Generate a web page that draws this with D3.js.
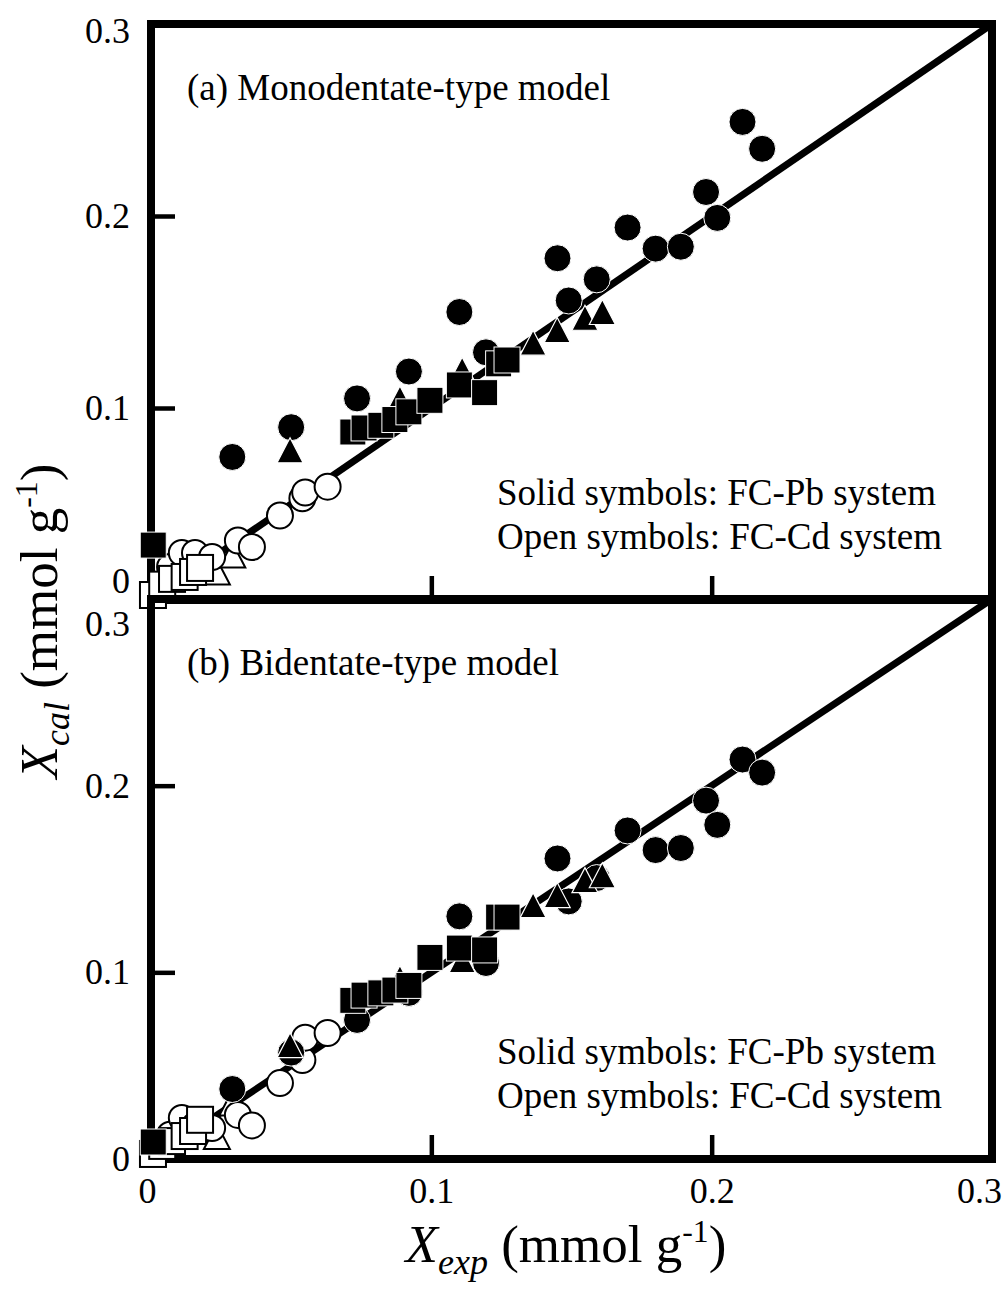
<!DOCTYPE html>
<html>
<head>
<meta charset="utf-8">
<script src="https://cdn.jsdelivr.net/npm/d3@7"></script>
<style>
  html, body { margin: 0; padding: 0; background: #fff; }
  svg { display: block; }
  text { font-family: "Liberation Serif", "Times New Roman", serif; fill: #000; }
</style>
</head>
<body>
<svg id="chart" width="1007" height="1295"></svg>
<script>
// ---- Experimental amounts (shared by both panels) and calculated amounts ----
// FC-Pb system (solid symbols)
const pbCircleX  = [0.029, 0.050, 0.0735, 0.092, 0.110, 0.1195, 0.145, 0.149, 0.159, 0.170, 0.180, 0.189, 0.198, 0.202, 0.211, 0.218];
const pbCircleYa = [0.0745, 0.090, 0.105, 0.119, 0.150, 0.129, 0.178, 0.156, 0.167, 0.194, 0.183, 0.184, 0.2125, 0.199, 0.249, 0.235];
const pbCircleYb = [0.0375, 0.057, 0.0745, 0.089, 0.130, 0.105, 0.161, 0.138, 0.1505, 0.176, 0.1655, 0.1666, 0.192, 0.179, 0.214, 0.207];

const pbSquareX  = [0.0008, 0.072, 0.076, 0.082, 0.087, 0.092, 0.0995, 0.110, 0.119, 0.124, 0.127];
const pbSquareYa = [0.0286, 0.0875, 0.0896, 0.091, 0.094, 0.098, 0.104, 0.112, 0.108, 0.123, 0.125];
const pbSquareYb = [0.0091, 0.085, 0.0878, 0.089, 0.0905, 0.093, 0.108, 0.113, 0.112, 0.1296, 0.1296];

const pbTriX  = [0.0496, 0.0888, 0.111, 0.1363, 0.1449, 0.1548, 0.161];
const pbTriYa = [0.078, 0.105, 0.120, 0.134, 0.1406, 0.147, 0.150];
const pbTriYb = [0.061, 0.097, 0.1066, 0.136, 0.1414, 0.1494, 0.152];

// FC-Cd system (open symbols)
const cdCircleX  = [0.0068, 0.011, 0.0157, 0.0218, 0.031, 0.036, 0.046, 0.054, 0.055, 0.063];
const cdCircleYa = [0.0172, 0.0245, 0.0245, 0.0224, 0.031, 0.0276, 0.044, 0.053, 0.056, 0.059];
const cdCircleYb = [0.013, 0.022, 0.018, 0.0166, 0.0236, 0.018, 0.0407, 0.053, 0.065, 0.0675];

const cdSquareX  = [0.0007, 0.004, 0.0075, 0.012, 0.015, 0.0175];
const cdSquareYa = [0.0026, 0.008, 0.011, 0.012, 0.0146, 0.0167];
const cdSquareYb = [0.0027, 0.007, 0.0096, 0.0123, 0.015, 0.021];

const cdTriX  = [0.0235, 0.029];
const cdTriYa = [0.0146, 0.0234];
const cdTriYb = [0.012, 0.030];

// Axis ticks and labels
const tickValues = [0, 0.1, 0.2, 0.3];
const tickLabels = ["0", "0.1", "0.2", "0.3"];
const parityLine = [[0, 0], [0.3, 0.3]];

const panels = [
  { title: "(a) Monodentate-type model", circleY: pbCircleYa, squareY: pbSquareYa, triY: pbTriYa,
    oCircleY: cdCircleYa, oSquareY: cdSquareYa, oTriY: cdTriYa },
  { title: "(b) Bidentate-type model", circleY: pbCircleYb, squareY: pbSquareYb, triY: pbTriYb,
    oCircleY: cdCircleYb, oSquareY: cdSquareYb, oTriY: cdTriYb }
];
const legendLines = ["Solid symbols: FC-Pb system", "Open symbols: FC-Cd system"];

// ---- Layout ----
const svg = d3.select("#chart");
const left = 151, right = 992;
const panelBox = [{ top: 24, bottom: 600 }, { top: 599, bottom: 1159 }];
const x = d3.scaleLinear().domain([0, 0.3]).range([left, right]);
const fmt = v => tickLabels[tickValues.indexOf(v)];

const R = 13, SQ = 26;
const triPath = "M0,-12.5L13,12.5L-13,12.5Z";

panels.forEach((p, i) => {
  const box = panelBox[i];
  const y = d3.scaleLinear().domain([0, 0.3]).range([box.bottom, box.top]);
  const g = svg.append("g");

  // frame
  g.append("rect")
    .attr("x", left).attr("y", box.top)
    .attr("width", right - left).attr("height", box.bottom - box.top)
    .attr("fill", "none").attr("stroke", "#000").attr("stroke-width", 8);

  // left axis (inward ticks)
  const ya = g.append("g").attr("transform", `translate(${left},0)`)
    .call(d3.axisLeft(y).tickValues(tickValues).tickFormat(fmt).tickSize(-24).tickPadding(21));
  ya.select(".domain").remove();
  ya.selectAll(".tick line").attr("stroke-width", 4.5)
    .attr("display", d => (d === 0 || d === 0.3) ? "none" : null);
  ya.selectAll(".tick text").attr("font-size", 36).attr("font-family", "Liberation Serif")
    .attr("dy", d => {
      if (i === 0 && d === 0) return "-0.22em";
      if (i === 0 && d === 0.3) return "0.5em";
      if (i === 1 && d === 0.3) return "1.02em";
      return "0.32em";
    });

  // bottom axis (inward ticks), labels only on the lower panel
  const xa = g.append("g").attr("transform", `translate(0,${box.bottom})`)
    .call(d3.axisBottom(x).tickValues(tickValues).tickFormat(fmt).tickSize(-24).tickPadding(18));
  xa.select(".domain").remove();
  xa.selectAll(".tick line").attr("stroke-width", 4.5)
    .attr("display", d => (d === 0 || d === 0.3) ? "none" : null);
  xa.selectAll(".tick text").attr("font-size", 36).attr("font-family", "Liberation Serif")
    .attr("display", i === 0 ? "none" : null)
    .attr("dx", d => d === 0.3 ? -13 : (d === 0 ? -4 : 0));

  // 1:1 line
  g.append("path")
    .attr("d", d3.line().x(d => x(d[0])).y(d => y(d[1]))(parityLine))
    .attr("fill", "none").attr("stroke", "#000").attr("stroke-width", 7);

  // panel title
  g.append("text").attr("x", 187).attr("y", box.top + 76)
    .attr("font-size", 37).text(p.title);

  // legend notes
  legendLines.forEach((t, k) => {
    g.append("text").attr("x", 497).attr("y", box.bottom - 95 + k * 44)
      .attr("font-size", 37).text(t);
  });

  const pts = (xs, ys) => xs.map((v, k) => [v, ys[k]]);
  const marks = g.append("g");

  // open triangles (Cd)
  marks.selectAll(null).data(pts(cdTriX, p.oTriY)).join("path")
    .attr("d", triPath).attr("transform", d => `translate(${x(d[0])},${y(d[1])})`)
    .attr("fill", "#fff").attr("stroke", "#000").attr("stroke-width", 2);
  // open circles (Cd)
  marks.selectAll(null).data(pts(cdCircleX, p.oCircleY)).join("circle")
    .attr("cx", d => x(d[0])).attr("cy", d => y(d[1])).attr("r", R)
    .attr("fill", "#fff").attr("stroke", "#000").attr("stroke-width", 2);
  // open squares (Cd)
  marks.selectAll(null).data(pts(cdSquareX, p.oSquareY)).join("rect")
    .attr("x", d => x(d[0]) - SQ / 2).attr("y", d => y(d[1]) - SQ / 2)
    .attr("width", SQ).attr("height", SQ)
    .attr("fill", "#fff").attr("stroke", "#000").attr("stroke-width", 2);
  // solid circles (Pb)
  marks.selectAll(null).data(pts(pbCircleX, p.circleY)).join("circle")
    .attr("cx", d => x(d[0])).attr("cy", d => y(d[1])).attr("r", R + 0.5)
    .attr("fill", "#000").attr("stroke", "#fff").attr("stroke-width", 1);
  // solid triangles (Pb)
  marks.selectAll(null).data(pts(pbTriX, p.triY)).join("path")
    .attr("d", triPath).attr("transform", d => `translate(${x(d[0])},${y(d[1])})`)
    .attr("fill", "#000").attr("stroke", "#fff").attr("stroke-width", 1.2);
  // solid squares (Pb)
  marks.selectAll(null).data(pts(pbSquareX, p.squareY)).join("rect")
    .attr("x", d => x(d[0]) - SQ / 2).attr("y", d => y(d[1]) - SQ / 2)
    .attr("width", SQ).attr("height", SQ)
    .attr("fill", "#000").attr("stroke", "#fff").attr("stroke-width", 1);
});

// ---- Axis titles ----
function axisTitle(sel, sub, italicX, fs) {
  sel.attr("font-size", fs);
  sel.append("tspan").text("X").attr("font-style", italicX ? "italic" : "normal");
  sel.append("tspan").text(sub).attr("font-style", "italic")
    .attr("font-size", fs * 0.68).attr("dy", fs * 0.22);
  sel.append("tspan").text(" (mmol g").attr("dy", -fs * 0.22);
  sel.append("tspan").text("-1").attr("font-size", fs * 0.6).attr("dy", -fs * 0.38);
  sel.append("tspan").text(")").attr("dy", fs * 0.38);
}

axisTitle(svg.append("text").attr("x", 566).attr("y", 1262).attr("text-anchor", "middle"), "exp", true, 53);
axisTitle(svg.append("text").attr("transform", "translate(57,621) rotate(-90)").attr("text-anchor", "middle"), "cal", true, 53);
</script>
</body>
</html>
